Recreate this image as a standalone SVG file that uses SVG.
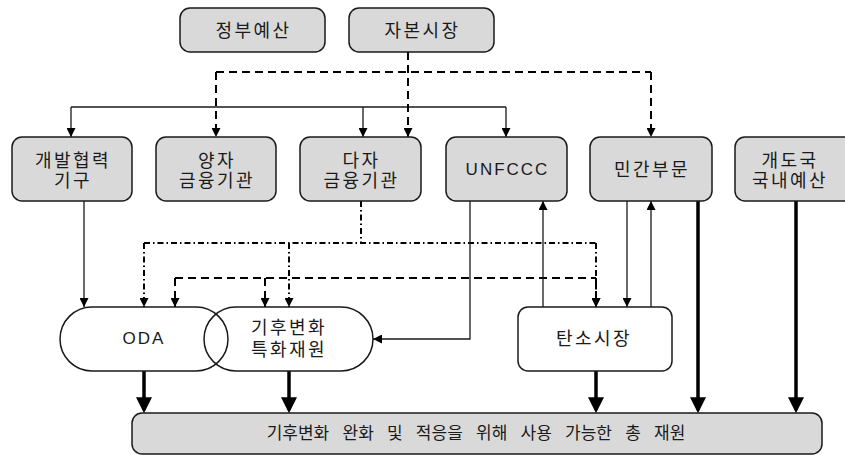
<svg xmlns="http://www.w3.org/2000/svg" width="845" height="455" viewBox="0 0 845 455">
  <style>
    .box { fill: #d9d9d9; stroke: #1a1a1a; stroke-width: 1.5; }
    .plain { fill: #ffffff; stroke: #1a1a1a; stroke-width: 1.5; }
    .open { fill: none; stroke: #1a1a1a; stroke-width: 1.5; }
    text { font-family: "Liberation Sans", "Noto Sans CJK KR", sans-serif; font-size: 18px; fill: #1a1a1a; text-anchor: middle; }
    .ko { letter-spacing: 2.5px; }
    .en { font-size: 17px; letter-spacing: 2px; }
    .total { font-size: 17px; letter-spacing: 0px; word-spacing: 8.5px; }
    .thin { fill: none; stroke: #1a1a1a; stroke-width: 1.3; }
    .dash { fill: none; stroke: #000; stroke-width: 2; stroke-dasharray: 8 5; }
    .dashdot { fill: none; stroke: #000; stroke-width: 2; stroke-dasharray: 6 3 1.5 3; }
    .thick { fill: none; stroke: #000; stroke-width: 3.5; }
  </style>
  <defs>
    <marker id="arrow" viewBox="0 0 10 10" refX="10" refY="5" markerWidth="10" markerHeight="9" markerUnits="userSpaceOnUse" orient="auto">
      <path d="M0,0 L10,5 L0,10 z" fill="#000"/>
    </marker>
    <marker id="arrow-thick" viewBox="0 0 10 10" refX="8" refY="5" markerWidth="16" markerHeight="18" markerUnits="userSpaceOnUse" orient="auto">
      <path d="M0,0 L10,5 L0,10 z" fill="#000"/>
    </marker>
  </defs>

  <rect x="0" y="0" width="845" height="455" fill="#ffffff"/>

  <!-- connectors -->
  <g id="connectors">
    <!-- solid distribution bar -->
    <path class="thin" d="M71,107 H506"/>
    <path class="thin" d="M71,107 V137" marker-end="url(#arrow)"/>
    <path class="thin" d="M363,107 V137" marker-end="url(#arrow)"/>
    <path class="thin" d="M506,107 V137" marker-end="url(#arrow)"/>

    <!-- capital market flows -->
    <path class="dash" d="M408,52 V137" marker-end="url(#arrow)"/>
    <path class="dash" d="M216,72 H651"/>
    <path class="dash" d="M216,72 V137" marker-end="url(#arrow)"/>
    <path class="dash" d="M651,72 V137" marker-end="url(#arrow)"/>

    <!-- development agencies to ODA -->
    <path class="thin" d="M84,201 V307" marker-end="url(#arrow)"/>

    <!-- multilateral institutions -->
    <path class="dashdot" d="M361,201 V243"/>
    <path class="dashdot" d="M144,243 H596"/>
    <path class="dashdot" d="M144,243 V307" marker-end="url(#arrow)"/>
    <path class="dashdot" d="M289,243 V307" marker-end="url(#arrow)"/>
    <path class="dashdot" d="M596,243 V307" marker-end="url(#arrow)"/>

    <!-- second dashed bar -->
    <path class="dash" d="M175,278 H596"/>
    <path class="dash" d="M175,278 V307" marker-end="url(#arrow)"/>
    <path class="dash" d="M265,278 V307" marker-end="url(#arrow)"/>
    <path class="dash" d="M596,278 V307" marker-end="url(#arrow)"/>

    <!-- UNFCCC and carbon market -->
    <path class="thin" d="M470,201 V339 H373" marker-end="url(#arrow)"/>
    <path class="thin" d="M543,307 V201" marker-end="url(#arrow)"/>
    <path class="thin" d="M627,201 V307" marker-end="url(#arrow)"/>
    <path class="thin" d="M651,307 V201" marker-end="url(#arrow)"/>

    <!-- flows into total resources -->
    <path class="thick" d="M144,371 V410" marker-end="url(#arrow-thick)"/>
    <path class="thick" d="M289,371 V410" marker-end="url(#arrow-thick)"/>
    <path class="thick" d="M596,371 V410" marker-end="url(#arrow-thick)"/>
    <path class="thick" d="M698,201 V410" marker-end="url(#arrow-thick)"/>
    <path class="thick" d="M796,201 V410" marker-end="url(#arrow-thick)"/>
  </g>

  <!-- top row -->
  <g id="gov-budget">
    <rect class="box" x="180" y="8" width="145" height="44" rx="10"/>
    <text class="ko" x="253.5" y="36.5">정부예산</text>
  </g>
  <g id="capital-market">
    <rect class="box" x="349" y="8" width="145" height="44" rx="10"/>
    <text class="ko" x="422.5" y="36.5">자본시장</text>
  </g>

  <!-- second row -->
  <g id="dev-agency">
    <rect class="box" x="12" y="137" width="120" height="64" rx="10"/>
    <text class="ko" x="73" y="166.5">개발협력</text>
    <text class="ko" x="73" y="187">기구</text>
  </g>
  <g id="bilateral">
    <rect class="box" x="156" y="137" width="120" height="64" rx="10"/>
    <text class="ko" x="217" y="166.5">양자</text>
    <text class="ko" x="217" y="187">금융기관</text>
  </g>
  <g id="multilateral">
    <rect class="box" x="300" y="137" width="121" height="64" rx="10"/>
    <text class="ko" x="361.5" y="166.5">다자</text>
    <text class="ko" x="361.5" y="187">금융기관</text>
  </g>
  <g id="unfccc">
    <rect class="box" x="446" y="137" width="121" height="64" rx="10"/>
    <text class="en" x="507.5" y="175">UNFCCC</text>
  </g>
  <g id="private-sector">
    <rect class="box" x="590" y="137" width="122" height="64" rx="10"/>
    <text class="ko" x="652" y="175.5">민간부문</text>
  </g>
  <g id="domestic-budget">
    <rect class="box" x="735" y="137" width="130" height="64" rx="10"/>
    <text class="ko" x="790" y="166.5">개도국</text>
    <text class="ko" x="790" y="187">국내예산</text>
  </g>

  <!-- third row -->
  <g id="oda">
    <rect class="open" x="60" y="307" width="168" height="64" rx="32"/>
    <text class="en" x="144" y="344">ODA</text>
  </g>
  <g id="climate-funds">
    <rect class="open" x="204" y="307" width="169" height="64" rx="32"/>
    <text class="ko" x="289" y="333.5">기후변화</text>
    <text class="ko" x="289" y="355.5">특화재원</text>
  </g>
  <g id="carbon-market">
    <rect class="plain" x="518" y="307" width="154" height="64" rx="10"/>
    <text class="ko" x="594" y="344.5">탄소시장</text>
  </g>

  <!-- bottom row -->
  <g id="total-resources">
    <rect class="box" x="132" y="413" width="690" height="41" rx="10"/>
    <text class="total" x="476" y="439">기후변화 완화 및 적응을 위해 사용 가능한 총 재원</text>
  </g>
</svg>
